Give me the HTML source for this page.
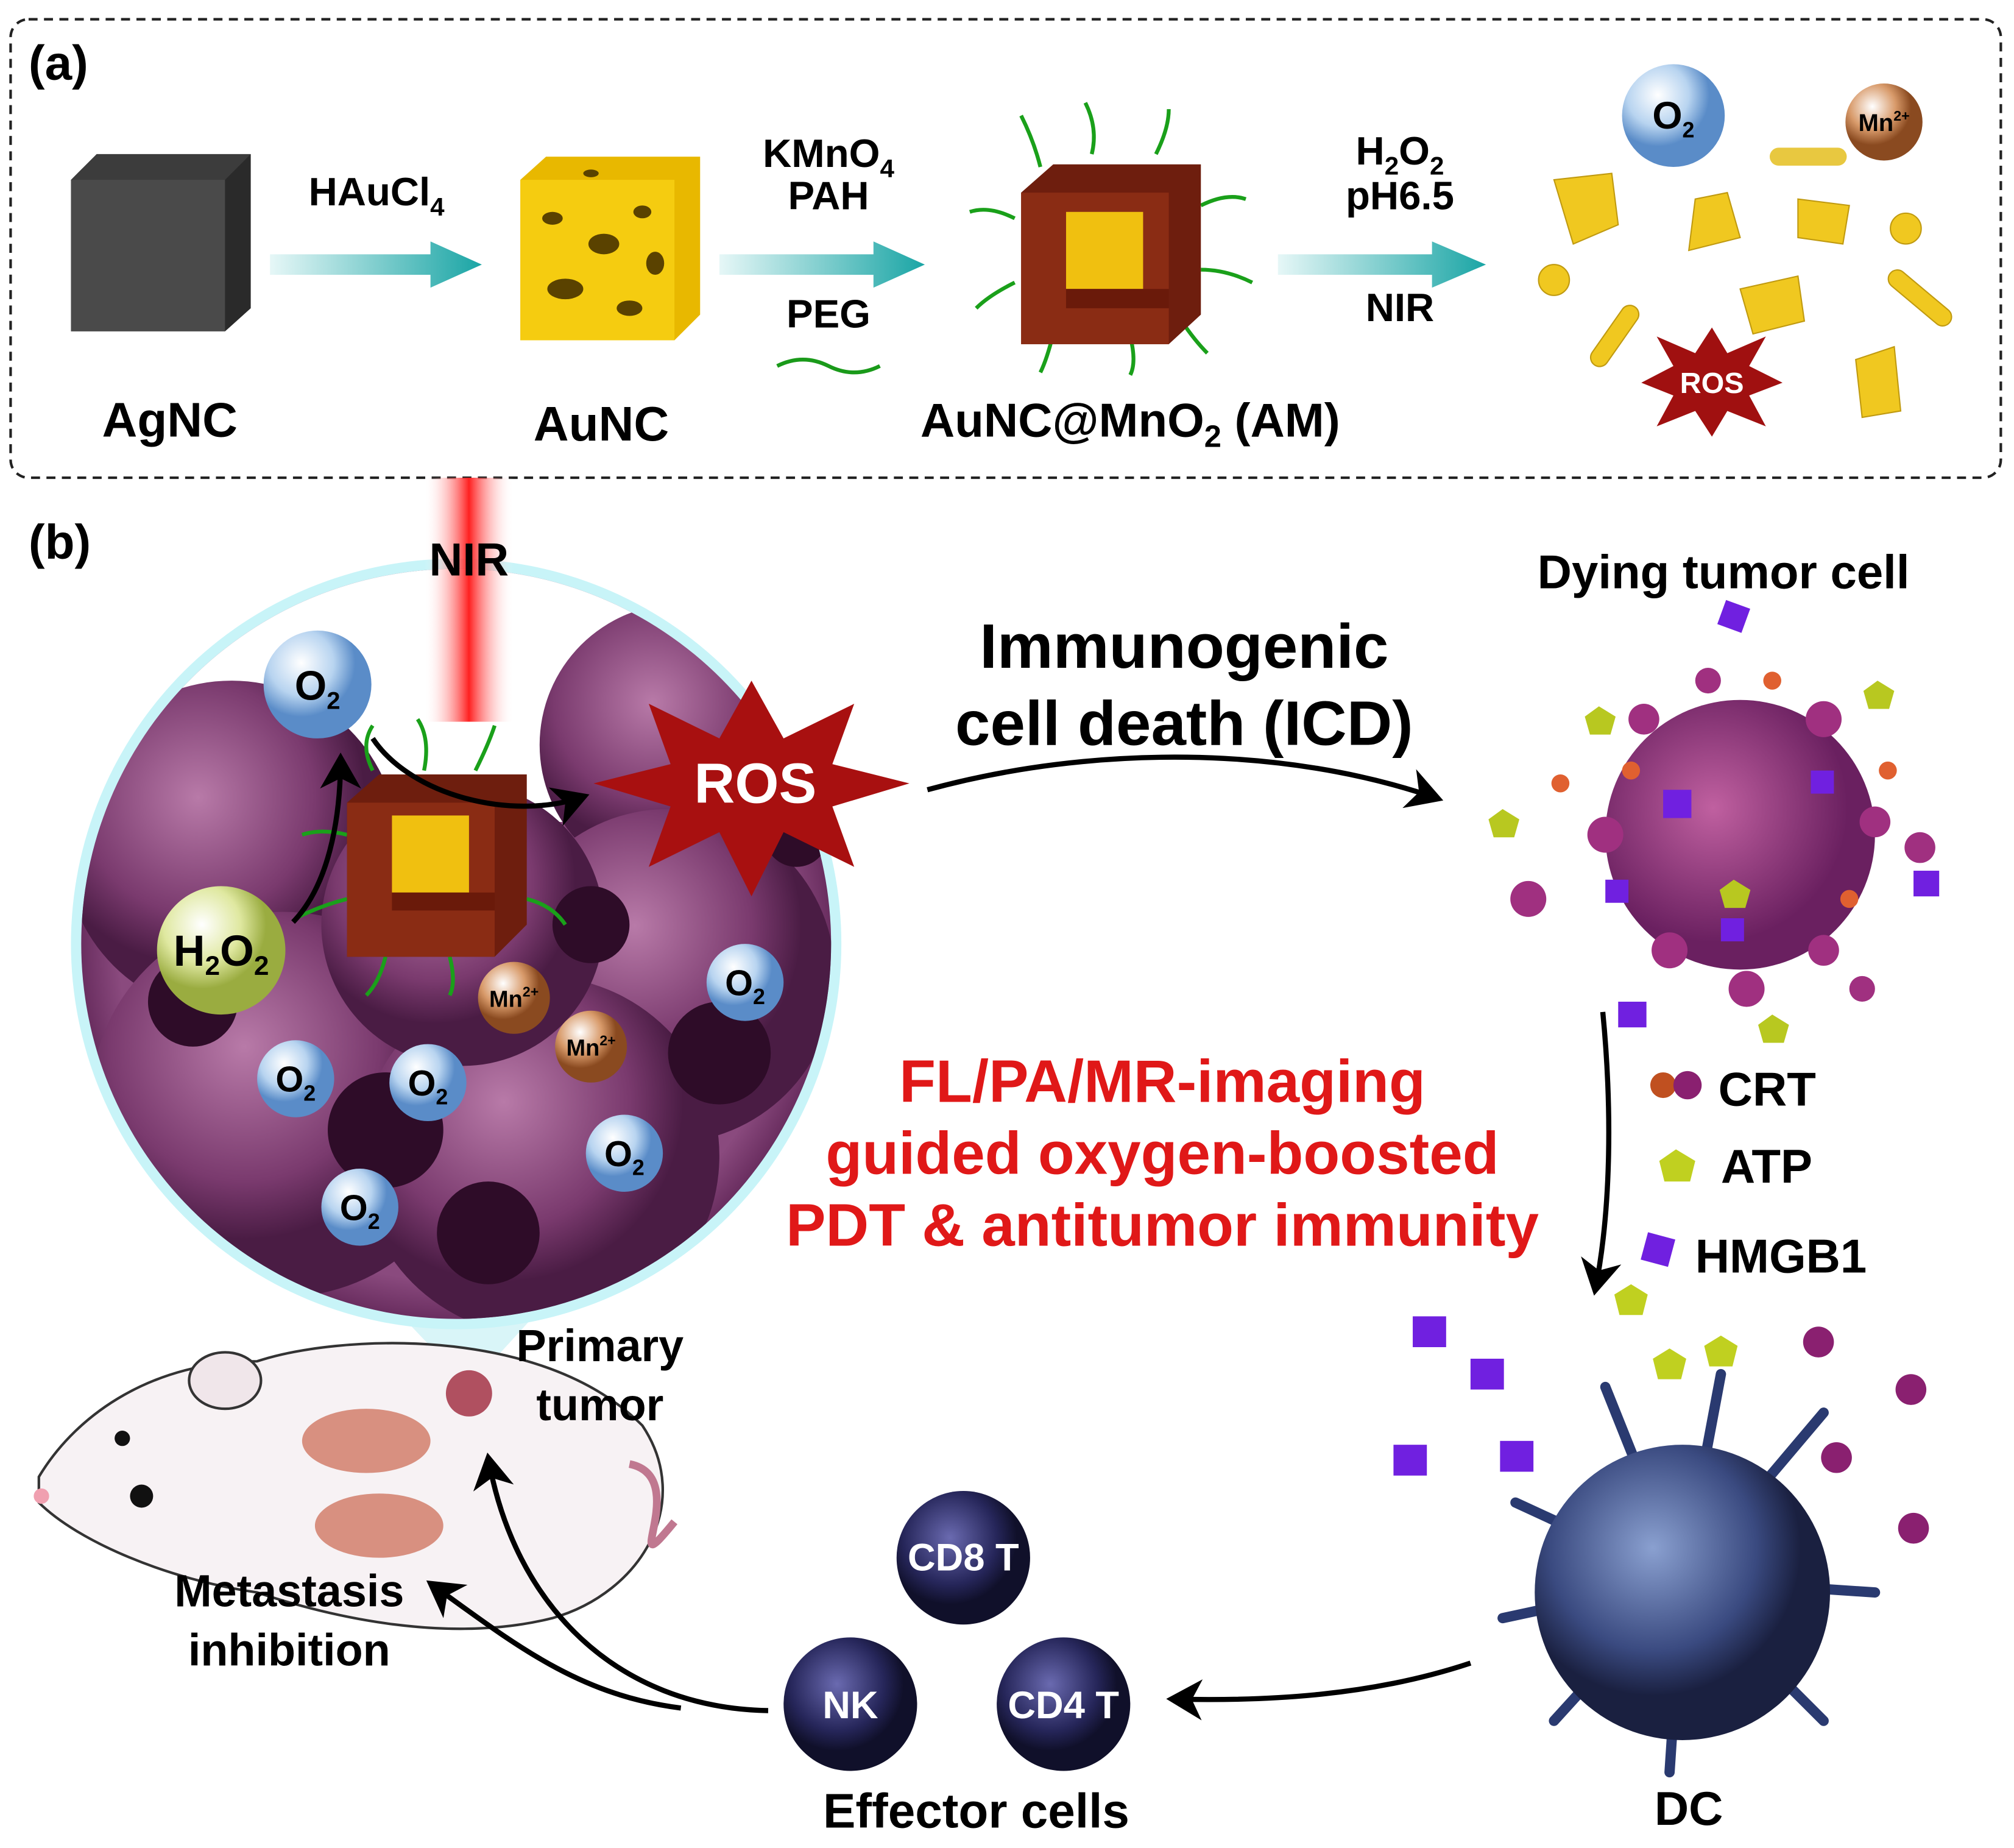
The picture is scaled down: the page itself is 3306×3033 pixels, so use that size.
<!DOCTYPE html>
<html><head><meta charset="utf-8"><style>
html,body{margin:0;padding:0;background:#fff;}
svg{display:block;}
text{font-family:"Liberation Sans",Arial,sans-serif;font-weight:bold;}
</style></head><body>
<svg width="3306" height="3033" viewBox="0 0 1568 1439" xmlns="http://www.w3.org/2000/svg">
<defs>
<linearGradient id="arr" x1="0" x2="1"><stop offset="0" stop-color="#e6f7f7"/><stop offset="1" stop-color="#1aa5a5"/></linearGradient>
<linearGradient id="beam" x1="0" x2="1"><stop offset="0" stop-color="#fff" stop-opacity="0"/><stop offset="0.5" stop-color="#ff2020"/><stop offset="1" stop-color="#fff" stop-opacity="0"/></linearGradient>
<radialGradient id="o2" cx="0.35" cy="0.3"><stop offset="0" stop-color="#ffffff"/><stop offset="0.6" stop-color="#b8d4f0"/><stop offset="1" stop-color="#5a8cc8"/></radialGradient>
<radialGradient id="mn" cx="0.35" cy="0.3"><stop offset="0" stop-color="#fff"/><stop offset="0.6" stop-color="#d89a6a"/><stop offset="1" stop-color="#8a4a20"/></radialGradient>
<radialGradient id="h2o2" cx="0.35" cy="0.3"><stop offset="0" stop-color="#fff"/><stop offset="0.6" stop-color="#dfe8a0"/><stop offset="1" stop-color="#9aac40"/></radialGradient>
<radialGradient id="cell" cx="0.4" cy="0.35"><stop offset="0" stop-color="#b87aa8"/><stop offset="0.7" stop-color="#7a3a6e"/><stop offset="1" stop-color="#4a1c44"/></radialGradient>
<radialGradient id="dying" cx="0.4" cy="0.4"><stop offset="0" stop-color="#c060a0"/><stop offset="1" stop-color="#6a2060"/></radialGradient>
<radialGradient id="dc" cx="0.4" cy="0.35"><stop offset="0" stop-color="#8aa0d0"/><stop offset="0.7" stop-color="#3a4a80"/><stop offset="1" stop-color="#1a2040"/></radialGradient>
<radialGradient id="eff" cx="0.4" cy="0.35"><stop offset="0" stop-color="#6a6ab0"/><stop offset="0.7" stop-color="#26265a"/><stop offset="1" stop-color="#10102a"/></radialGradient>
<radialGradient id="circ" cx="0.5" cy="0.5"><stop offset="0.9" stop-color="#8a4a7e"/><stop offset="1" stop-color="#6a2e60"/></radialGradient>
<marker id="ah" markerWidth="8" markerHeight="8" refX="6" refY="4" orient="auto" markerUnits="strokeWidth"><path d="M0,0 L7,4 L0,8 L2,4z" fill="#000"/></marker>
</defs>

<rect x="8" y="15" width="1550" height="357" rx="14" fill="none" stroke="#222" stroke-width="2" stroke-dasharray="7,5"/>
<text x="22" y="62" font-size="38">(a)</text>
<polygon points="55,140 75,120 195,120 195,240 175,258 55,258" fill="#3c3c3c"/>
<polygon points="55,140 175,140 175,258 55,258" fill="#4a4a4a"/>
<polygon points="175,140 195,120 195,240 175,258" fill="#2a2a2a"/>
<text x="132" y="340" font-size="38" text-anchor="middle">AgNC</text>
<polygon points="210,198 335,198 335,188 375,206 335,224 335,214 210,214" fill="url(#arr)"/>
<polygon points="560,198 680,198 680,188 720,206 680,224 680,214 560,214" fill="url(#arr)"/>
<polygon points="995,198 1115,198 1115,188 1157,206 1115,224 1115,214 995,214" fill="url(#arr)"/>
<text x="293" y="160" font-size="31" text-anchor="middle">HAuCl<tspan font-size="20" dy="8">4</tspan></text>
<polygon points="405,140 425,122 545,122 545,245 525,265 405,265" fill="#e8b800"/>
<polygon points="405,140 525,140 525,265 405,265" fill="#f5cc10"/>
<g fill="#5a4200"><ellipse cx="430" cy="170" rx="8" ry="5"/><ellipse cx="470" cy="190" rx="12" ry="8"/><ellipse cx="500" cy="165" rx="7" ry="5"/><ellipse cx="440" cy="225" rx="14" ry="8"/><ellipse cx="490" cy="240" rx="10" ry="6"/><ellipse cx="510" cy="205" rx="7" ry="9"/><ellipse cx="460" cy="135" rx="6" ry="3"/></g>
<text x="468" y="343" font-size="38" text-anchor="middle">AuNC</text>
<text x="645" y="130" font-size="31" text-anchor="middle">KMnO<tspan font-size="20" dy="8">4</tspan></text>
<text x="645" y="163" font-size="31" text-anchor="middle">PAH</text>
<text x="645" y="255" font-size="31" text-anchor="middle">PEG</text>
<path d="M605,285 q20,-10 40,0 t40,0" stroke="#1a9a1a" stroke-width="3" fill="none"/>
<g stroke="#1aa01a" stroke-width="3" fill="none">
<path d="M810,130 q-5,-20 -15,-40"/><path d="M850,120 q5,-20 -5,-40"/><path d="M900,120 q10,-20 10,-35"/><path d="M935,160 q20,-10 35,-5"/><path d="M935,210 q20,0 40,10"/><path d="M790,170 q-20,-10 -35,-5"/><path d="M790,220 q-20,10 -30,20"/><path d="M820,260 q-5,20 -10,30"/><path d="M880,262 q5,20 0,30"/><path d="M920,250 q10,15 20,25"/></g>
<polygon points="795,150 820,128 935,128 935,245 910,268 795,268" fill="#6e1e0e"/>
<polygon points="795,150 910,150 910,268 795,268" fill="#8a2c14"/>
<rect x="830" y="165" width="60" height="60" fill="#f0c010"/>
<rect x="830" y="225" width="80" height="15" fill="#6a1a0a"/>
<text x="880" y="340" font-size="37" text-anchor="middle">AuNC@MnO<tspan font-size="24" dy="8">2</tspan><tspan dy="-8"> (AM)</tspan></text>
<text x="1090" y="128" font-size="31" text-anchor="middle">H<tspan font-size="20" dy="8">2</tspan><tspan dy="-8">O</tspan><tspan font-size="20" dy="8">2</tspan></text>
<text x="1090" y="163" font-size="31" text-anchor="middle">pH6.5</text>
<text x="1090" y="250" font-size="31" text-anchor="middle">NIR</text>
<circle cx="1303" cy="90" r="40" fill="url(#o2)"/>
<text x="1303" y="100" font-size="30" text-anchor="middle">O<tspan font-size="17" dy="7">2</tspan></text>
<circle cx="1467" cy="95" r="30" fill="url(#mn)"/>
<text x="1467" y="102" font-size="19" text-anchor="middle">Mn<tspan font-size="11" dy="-8">2+</tspan></text>
<rect x="1378" y="115" width="60" height="14" rx="7" fill="#e8c840"/>
<g fill="#f0c820" stroke="#c09a10">
<polygon points="1210,140 1255,135 1260,175 1225,190"/><polygon points="1320,155 1345,150 1355,185 1315,195"/><polygon points="1400,155 1440,160 1435,190 1400,185"/><polygon points="1355,225 1400,215 1405,250 1365,260"/><polygon points="1445,280 1475,270 1480,320 1450,325"/>
<circle cx="1210" cy="218" r="12"/><circle cx="1484" cy="178" r="12"/>
<rect x="1465" y="225" width="60" height="14" rx="7" transform="rotate(40 1495 232)"/>
<rect x="1230" y="255" width="55" height="14" rx="7" transform="rotate(-55 1257 262)"/>
</g>
<polygon points="1333,255 1345,275 1375,262 1362,285 1388,298 1362,308 1375,332 1345,320 1333,340 1320,320 1290,332 1303,308 1278,298 1303,285 1290,262 1320,275" fill="#a01010"/>
<text x="1333" y="306" font-size="23" fill="#fff" text-anchor="middle">ROS</text>

<text x="22" y="435" font-size="38">(b)</text>
<polygon points="80,780 365,1080 640,780" fill="#bfeff4" opacity="0.6"/>
<circle cx="355" cy="735" r="300" fill="#c8f4f8"/>
<circle cx="355" cy="735" r="292" fill="url(#circ)"/>
<clipPath id="cc"><circle cx="355" cy="735" r="292"/></clipPath>
<g clip-path="url(#cc)">
<rect x="60" y="440" width="600" height="200" fill="#ffffff"/>
<circle cx="530" cy="580" r="110" fill="url(#cell)"/>
<circle cx="180" cy="660" r="130" fill="url(#cell)"/>
<circle cx="520" cy="760" r="130" fill="url(#cell)"/>
<circle cx="220" cy="860" r="150" fill="url(#cell)"/>
<circle cx="420" cy="900" r="140" fill="url(#cell)"/>
<circle cx="360" cy="720" r="110" fill="url(#cell)"/>
<g fill="#2e0c28"><circle cx="560" cy="820" r="40"/><circle cx="300" cy="880" r="45"/><circle cx="460" cy="720" r="30"/><circle cx="150" cy="780" r="35"/><circle cx="380" cy="960" r="40"/><circle cx="620" cy="650" r="25"/></g>
</g>
<rect x="330" y="372" width="70" height="190" fill="url(#beam)"/>
<text x="365" y="448" font-size="36" text-anchor="middle">NIR</text>
<g stroke="#1aa01a" stroke-width="3" fill="none">
<path d="M290,600 q-10,-20 0,-35"/><path d="M330,600 q5,-25 -5,-40"/><path d="M370,600 q10,-20 15,-35"/><path d="M270,650 q-20,-5 -35,0"/><path d="M270,700 q-20,5 -40,15"/><path d="M300,745 q-5,20 -15,30"/><path d="M350,745 q5,20 0,30"/><path d="M410,700 q20,5 30,20"/></g>
<polygon points="270,625 295,603 410,603 410,720 385,745 270,745" fill="#6e1e0e"/>
<polygon points="270,625 385,625 385,745 270,745" fill="#8a2c14"/>
<rect x="305" y="635" width="60" height="60" fill="#f0c010"/>
<rect x="305" y="695" width="80" height="14" fill="#6a1a0a"/>
<polygon points="585,530 610,575 665,548 648,595 708,610 648,628 665,675 610,648 585,698 560,648 505,675 522,628 462,610 522,595 505,548 560,575" fill="#a81010"/>
<text x="588" y="625" font-size="44" fill="#fff" text-anchor="middle">ROS</text>
<circle cx="247" cy="533" r="42" fill="url(#o2)"/><text x="247" y="545" font-size="32" text-anchor="middle">O<tspan font-size="19" dy="7">2</tspan></text>
<circle cx="172" cy="740" r="50" fill="url(#h2o2)"/><text x="172" y="752" font-size="34" text-anchor="middle">H<tspan font-size="21" dy="7">2</tspan><tspan dy="-7">O</tspan><tspan font-size="21" dy="7">2</tspan></text>
<circle cx="580" cy="765" r="30" fill="url(#o2)"/><text x="580" y="775" font-size="28" text-anchor="middle">O<tspan font-size="17" dy="7">2</tspan></text>
<circle cx="230" cy="840" r="30" fill="url(#o2)"/><text x="230" y="850" font-size="28" text-anchor="middle">O<tspan font-size="17" dy="7">2</tspan></text>
<circle cx="333" cy="843" r="30" fill="url(#o2)"/><text x="333" y="853" font-size="28" text-anchor="middle">O<tspan font-size="17" dy="7">2</tspan></text>
<circle cx="486" cy="898" r="30" fill="url(#o2)"/><text x="486" y="908" font-size="28" text-anchor="middle">O<tspan font-size="17" dy="7">2</tspan></text>
<circle cx="280" cy="940" r="30" fill="url(#o2)"/><text x="280" y="950" font-size="28" text-anchor="middle">O<tspan font-size="17" dy="7">2</tspan></text>
<circle cx="400" cy="777" r="28" fill="url(#mn)"/><text x="400" y="784" font-size="18" text-anchor="middle">Mn<tspan font-size="11" dy="-8">2+</tspan></text>
<circle cx="460" cy="815" r="28" fill="url(#mn)"/><text x="460" y="822" font-size="18" text-anchor="middle">Mn<tspan font-size="11" dy="-8">2+</tspan></text>
<path d="M228,718 C255,690 265,640 265,590" stroke="#000" stroke-width="4" fill="none" marker-end="url(#ah)"/>
<path d="M290,575 C320,620 400,640 455,620" stroke="#000" stroke-width="4" fill="none" marker-end="url(#ah)"/>
<text x="922" y="520" font-size="49" text-anchor="middle">Immunogenic</text>
<text x="922" y="580" font-size="49" text-anchor="middle">cell death (ICD)</text>
<path d="M722,615 C850,580 1000,580 1120,622" stroke="#000" stroke-width="4" fill="none" marker-end="url(#ah)"/>
<g fill="#e01818" font-size="46.5" text-anchor="middle">
<text x="905" y="858">FL/PA/MR-imaging</text>
<text x="905" y="914">guided oxygen-boosted</text>
<text x="905" y="970">PDT &amp; antitumor immunity</text></g>
<text x="1342" y="458" font-size="37" text-anchor="middle">Dying tumor cell</text>
<circle cx="1355" cy="650" r="105" fill="url(#dying)"/>
<g fill="#a03080"><circle cx="1280" cy="560" r="12"/><circle cx="1420" cy="560" r="14"/><circle cx="1460" cy="640" r="12"/><circle cx="1250" cy="650" r="14"/><circle cx="1300" cy="740" r="14"/><circle cx="1420" cy="740" r="12"/><circle cx="1190" cy="700" r="14"/><circle cx="1495" cy="660" r="12"/><circle cx="1360" cy="770" r="14"/><circle cx="1450" cy="770" r="10"/><circle cx="1330" cy="530" r="10"/></g>
<g fill="#e06030"><circle cx="1270" cy="600" r="7"/><circle cx="1440" cy="700" r="7"/><circle cx="1380" cy="530" r="7"/><circle cx="1215" cy="610" r="7"/><circle cx="1470" cy="600" r="7"/></g>
<g fill="#7020e0"><rect x="1340" y="470" width="20" height="20" transform="rotate(20 1350 480)"/><rect x="1295" y="615" width="22" height="22"/><rect x="1410" y="600" width="18" height="18"/><rect x="1490" y="678" width="20" height="20"/><rect x="1260" y="780" width="22" height="20"/><rect x="1250" y="685" width="18" height="18"/><rect x="1340" y="715" width="18" height="18"/></g>
<g fill="#b8c820"><polygon points="1245,550 1258,558 1254,572 1238,572 1234,558"/><polygon points="1170,630 1183,638 1179,652 1163,652 1159,638"/><polygon points="1462,530 1475,538 1471,552 1455,552 1451,538"/><polygon points="1380,790 1393,798 1389,812 1373,812 1369,798"/><polygon points="1350,685 1363,693 1359,707 1343,707 1339,693"/></g>
<path d="M1248,788 C1255,860 1255,940 1242,1005" stroke="#000" stroke-width="4" fill="none" marker-end="url(#ah)"/>
<circle cx="1295" cy="845" r="10" fill="#c05020"/><circle cx="1314" cy="845" r="11" fill="#8a2070"/>
<text x="1338" y="861" font-size="37">CRT</text>
<polygon points="1305,895 1320,904 1316,920 1296,920 1292,904" fill="#c0d020"/>
<text x="1340" y="921" font-size="37">ATP</text>
<rect x="1280" y="962" width="22" height="22" fill="#7020e0" transform="rotate(15 1291 973)"/>
<text x="1320" y="991" font-size="37">HMGB1</text>
<g stroke="#2a3a70" stroke-width="8" stroke-linecap="round">
<line x1="1310" y1="1230" x2="1180" y2="1170"/><line x1="1310" y1="1230" x2="1170" y2="1260"/><line x1="1310" y1="1230" x2="1210" y2="1340"/><line x1="1310" y1="1230" x2="1300" y2="1380"/><line x1="1310" y1="1230" x2="1420" y2="1340"/><line x1="1310" y1="1230" x2="1460" y2="1240"/><line x1="1310" y1="1230" x2="1420" y2="1100"/><line x1="1310" y1="1230" x2="1250" y2="1080"/><line x1="1310" y1="1230" x2="1340" y2="1070"/></g>
<circle cx="1310" cy="1240" r="115" fill="url(#dc)"/>
<text x="1315" y="1421" font-size="37" text-anchor="middle">DC</text>
<g fill="#7020e0"><rect x="1100" y="1025" width="26" height="24"/><rect x="1145" y="1058" width="26" height="24"/><rect x="1085" y="1125" width="26" height="24"/><rect x="1168" y="1122" width="26" height="24"/></g>
<g fill="#c0d020"><polygon points="1270,1000 1283,1008 1279,1024 1261,1024 1257,1008"/><polygon points="1300,1050 1313,1058 1309,1074 1291,1074 1287,1058"/><polygon points="1340,1040 1353,1048 1349,1064 1331,1064 1327,1048"/></g>
<g fill="#8a2070"><circle cx="1416" cy="1045" r="12"/><circle cx="1488" cy="1082" r="12"/><circle cx="1490" cy="1190" r="12"/><circle cx="1430" cy="1135" r="12"/></g>
<path d="M1145,1295 C1070,1320 990,1325 912,1323" stroke="#000" stroke-width="4" fill="none" marker-end="url(#ah)"/>
<circle cx="750" cy="1213" r="52" fill="url(#eff)"/><text x="750" y="1223" font-size="30" fill="#fff" text-anchor="middle">CD8 T</text>
<circle cx="662" cy="1327" r="52" fill="url(#eff)"/><text x="662" y="1338" font-size="30" fill="#fff" text-anchor="middle">NK</text>
<circle cx="828" cy="1327" r="52" fill="url(#eff)"/><text x="828" y="1338" font-size="30" fill="#fff" text-anchor="middle">CD4 T</text>
<text x="760" y="1423" font-size="38" text-anchor="middle">Effector cells</text>
<path d="M30,1150 C60,1100 120,1060 200,1060 C260,1040 420,1030 500,1110 C540,1170 500,1240 430,1260 C350,1280 260,1260 200,1240 C130,1230 60,1200 30,1170 Z" fill="#f7f2f4" stroke="#333" stroke-width="2"/>
<ellipse cx="175" cy="1075" rx="28" ry="22" fill="#f0e6ea" stroke="#333" stroke-width="2"/>
<path d="M490,1140 C540,1150 480,1240 525,1185" stroke="#c07890" stroke-width="6" fill="none"/>
<circle cx="110" cy="1165" r="9" fill="#111"/><circle cx="95" cy="1120" r="6" fill="#111"/>
<circle cx="32" cy="1165" r="6" fill="#f0a0b0"/>
<ellipse cx="285" cy="1122" rx="50" ry="25" fill="#d89080"/>
<ellipse cx="295" cy="1188" rx="50" ry="25" fill="#d89080"/>
<circle cx="365" cy="1085" r="18" fill="#b05060"/>
<text x="467" y="1060" font-size="35" text-anchor="middle">Primary</text>
<text x="467" y="1106" font-size="35" text-anchor="middle">tumor</text>
<text x="225" y="1251" font-size="35" text-anchor="middle">Metastasis</text>
<text x="225" y="1297" font-size="35" text-anchor="middle">inhibition</text>
<path d="M598,1332 C480,1330 400,1250 380,1135" stroke="#000" stroke-width="4" fill="none" marker-end="url(#ah)"/>
<path d="M530,1330 C450,1320 400,1280 335,1233" stroke="#000" stroke-width="4" fill="none" marker-end="url(#ah)"/>
</svg>
</body></html>
